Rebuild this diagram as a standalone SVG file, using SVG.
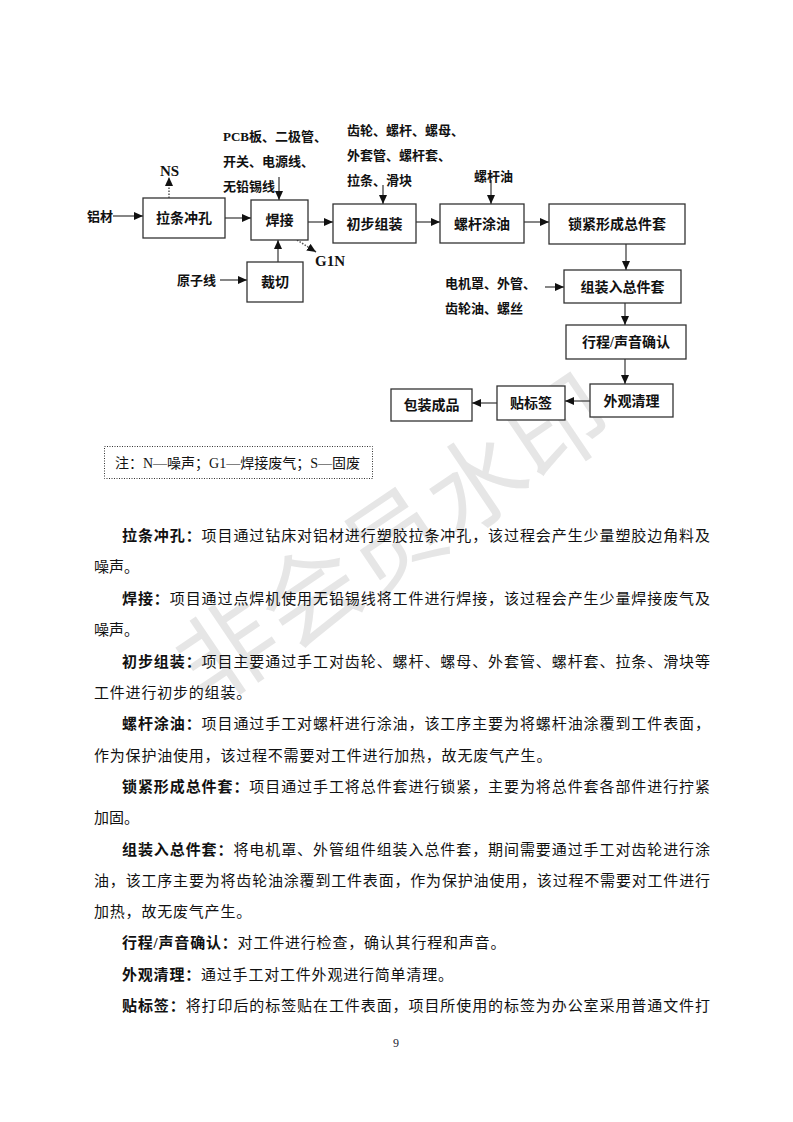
<svg xmlns="http://www.w3.org/2000/svg" width="793" height="1122" viewBox="0 0 793 1122">
<defs>
<style>
.bx{fill:#fff;stroke:#333;stroke-width:1.3}
.lb{font-family:"Liberation Serif","Noto Sans CJK SC",serif;font-size:14px;font-weight:bold;fill:#111;text-anchor:middle}
.sm{font-family:"Liberation Serif","Noto Sans CJK SC",serif;font-size:13px;font-weight:bold;fill:#111}
.lt{font-family:"Liberation Serif",serif;font-size:15px;font-weight:bold;fill:#111}
.ln{stroke:#444;stroke-width:1.3;fill:none}
.dt{stroke:#555;stroke-width:1.5;fill:none;stroke-dasharray:1.5,1.5}
.p{font-family:"Liberation Serif","Noto Sans CJK SC",sans-serif;font-size:15px;fill:#111}
.b{font-weight:bold}
.wm{font-family:"Noto Sans CJK SC",sans-serif;font-size:98px;fill:#e6e6e6}
</style>
<marker id="ah" markerUnits="userSpaceOnUse" markerWidth="10" markerHeight="9" refX="9" refY="4" orient="auto">
<path d="M0,0 L9,4 L0,8 z" fill="#111"/>
</marker>
</defs>
<rect width="793" height="1122" fill="#fff"/>
<g id="watermark">
<text class="wm" transform="translate(395,540) rotate(-34)" text-anchor="middle" y="34" letter-spacing="2">非会员水印</text>
</g>
<g id="connectors">
<line class="ln" x1="113" y1="216" x2="143" y2="216" marker-end="url(#ah)"/>
<line class="ln" x1="225" y1="218" x2="251" y2="218" marker-end="url(#ah)"/>
<line class="ln" x1="308" y1="222" x2="333" y2="222" marker-end="url(#ah)"/>
<line class="ln" x1="416" y1="222" x2="440" y2="222" marker-end="url(#ah)"/>
<line class="ln" x1="524" y1="222" x2="549" y2="222" marker-end="url(#ah)"/>
<line class="ln" x1="626" y1="244" x2="626" y2="270" marker-end="url(#ah)"/>
<line class="ln" x1="545" y1="287" x2="564" y2="287" marker-end="url(#ah)"/>
<line class="ln" x1="625" y1="303" x2="625" y2="325" marker-end="url(#ah)"/>
<line class="ln" x1="625" y1="359" x2="625" y2="384" marker-end="url(#ah)"/>
<line class="ln" x1="590" y1="401" x2="565" y2="401" marker-end="url(#ah)"/>
<line class="ln" x1="497" y1="403" x2="472" y2="403" marker-end="url(#ah)"/>
<line class="ln" x1="279" y1="177" x2="279" y2="200" marker-end="url(#ah)"/>
<line class="ln" x1="383" y1="185" x2="383" y2="204" marker-end="url(#ah)"/>
<line class="ln" x1="491" y1="180" x2="491" y2="204" marker-end="url(#ah)"/>
<line class="ln" x1="278" y1="262" x2="278" y2="240" marker-end="url(#ah)"/>
<line class="ln" x1="220" y1="280" x2="247" y2="280" marker-end="url(#ah)"/>
<line class="dt" x1="169" y1="198" x2="169" y2="177" marker-end="url(#ah)"/>
<line class="dt" x1="297" y1="240" x2="316" y2="252" marker-end="url(#ah)"/>
</g>
<g id="n-lattiao"><rect class="bx" x="143" y="198" width="82" height="40"/><text class="lb" x="184" y="223">拉条冲孔</text></g>
<g id="n-hanjie"><rect class="bx" x="251" y="200" width="57" height="40"/><text class="lb" x="279.5" y="225">焊接</text></g>
<g id="n-caiqie"><rect class="bx" x="247" y="262" width="56" height="40"/><text class="lb" x="275" y="287">裁切</text></g>
<g id="n-chubu"><rect class="bx" x="333" y="204" width="83" height="39"/><text class="lb" x="374.5" y="228.5">初步组装</text></g>
<g id="n-luogan"><rect class="bx" x="440" y="204" width="84" height="39"/><text class="lb" x="482" y="228.5">螺杆涂油</text></g>
<g id="n-suojin"><rect class="bx" x="549" y="204" width="136" height="40"/><text class="lb" x="617" y="229">锁紧形成总件套</text></g>
<g id="n-zuzhuang"><rect class="bx" x="564" y="270" width="117" height="33"/><text class="lb" x="622.5" y="291.5">组装入总件套</text></g>
<g id="n-xingcheng"><rect class="bx" x="566" y="325" width="120" height="34"/><text class="lb" x="626" y="347">行程/声音确认</text></g>
<g id="n-waiguan"><rect class="bx" x="590" y="384" width="83" height="33"/><text class="lb" x="631.5" y="405.5">外观清理</text></g>
<g id="n-tiebiaoqian"><rect class="bx" x="497" y="386" width="68" height="34"/><text class="lb" x="531" y="408">贴标签</text></g>
<g id="n-baozhuang"><rect class="bx" x="391" y="389" width="81" height="32"/><text class="lb" x="431.5" y="410">包装成品</text></g>
<g id="labels">
<text class="sm" x="87" y="221">铝材</text>
<text class="lt" x="160" y="176">NS</text>
<text class="sm" x="223" y="141">PCB板、二极管、</text>
<text class="sm" x="223" y="166">开关、电源线、</text>
<text class="sm" x="223" y="191">无铅锡线</text>
<text class="sm" x="177" y="285">原子线</text>
<text class="lt" x="315" y="266">G1N</text>
<text class="sm" x="347" y="135">齿轮、螺杆、螺母、</text>
<text class="sm" x="347" y="160">外套管、螺杆套、</text>
<text class="sm" x="347" y="185">拉条、滑块</text>
<text class="sm" x="474" y="181">螺杆油</text>
<text class="sm" x="445" y="288">电机罩、外管、</text>
<text class="sm" x="445" y="313">齿轮油、螺丝</text>
</g>
<g id="legend">
<rect x="104.5" y="446.5" width="268" height="32" fill="none" stroke="#333" stroke-width="1" stroke-dasharray="1,1.5"/>
<text x="115" y="468" font-family="'Liberation Serif','Noto Sans CJK SC',serif" font-size="14" fill="#111">注：N—噪声；G1—焊接废气；S—固废</text>
</g>
<g id="body">
<text class="p" x="122" y="541" textLength="588" lengthAdjust="spacing"><tspan class="b">拉条冲孔：</tspan>项目通过钻床对铝材进行塑胶拉条冲孔，该过程会产生少量塑胶边角料及</text>
<text class="p" x="94" y="572">噪声。</text>
<text class="p" x="122" y="604" textLength="588" lengthAdjust="spacing"><tspan class="b">焊接：</tspan>项目通过点焊机使用无铅锡线将工件进行焊接，该过程会产生少量焊接废气及</text>
<text class="p" x="94" y="635">噪声。</text>
<text class="p" x="122" y="667" textLength="588" lengthAdjust="spacing"><tspan class="b">初步组装：</tspan>项目主要通过手工对齿轮、螺杆、螺母、外套管、螺杆套、拉条、滑块等</text>
<text class="p" x="94" y="698" letter-spacing="0.8">工件进行初步的组装。</text>
<text class="p" x="122" y="729" textLength="588" lengthAdjust="spacing"><tspan class="b">螺杆涂油：</tspan>项目通过手工对螺杆进行涂油，该工序主要为将螺杆油涂覆到工件表面，</text>
<text class="p" x="94" y="761" letter-spacing="0.8">作为保护油使用，该过程不需要对工件进行加热，故无废气产生。</text>
<text class="p" x="122" y="792" textLength="588" lengthAdjust="spacing"><tspan class="b">锁紧形成总件套：</tspan>项目通过手工将总件套进行锁紧，主要为将总件套各部件进行拧紧</text>
<text class="p" x="94" y="823">加固。</text>
<text class="p" x="122" y="855" textLength="588" lengthAdjust="spacing"><tspan class="b">组装入总件套：</tspan>将电机罩、外管组件组装入总件套，期间需要通过手工对齿轮进行涂</text>
<text class="p" x="94" y="886" textLength="616" lengthAdjust="spacing">油，该工序主要为将齿轮油涂覆到工件表面，作为保护油使用，该过程不需要对工件进行</text>
<text class="p" x="94" y="917" letter-spacing="0.8">加热，故无废气产生。</text>
<text class="p" x="122" y="948" letter-spacing="0.8"><tspan class="b">行程/声音确认：</tspan>对工件进行检查，确认其行程和声音。</text>
<text class="p" x="122" y="980" letter-spacing="0.8"><tspan class="b">外观清理：</tspan>通过手工对工件外观进行简单清理。</text>
<text class="p" x="122" y="1011" textLength="588" lengthAdjust="spacing"><tspan class="b">贴标签：</tspan>将打印后的标签贴在工件表面，项目所使用的标签为办公室采用普通文件打</text>
</g>
<text x="396" y="1047" font-family="'Liberation Serif',serif" font-size="12" fill="#223" text-anchor="middle">9</text>
</svg>
